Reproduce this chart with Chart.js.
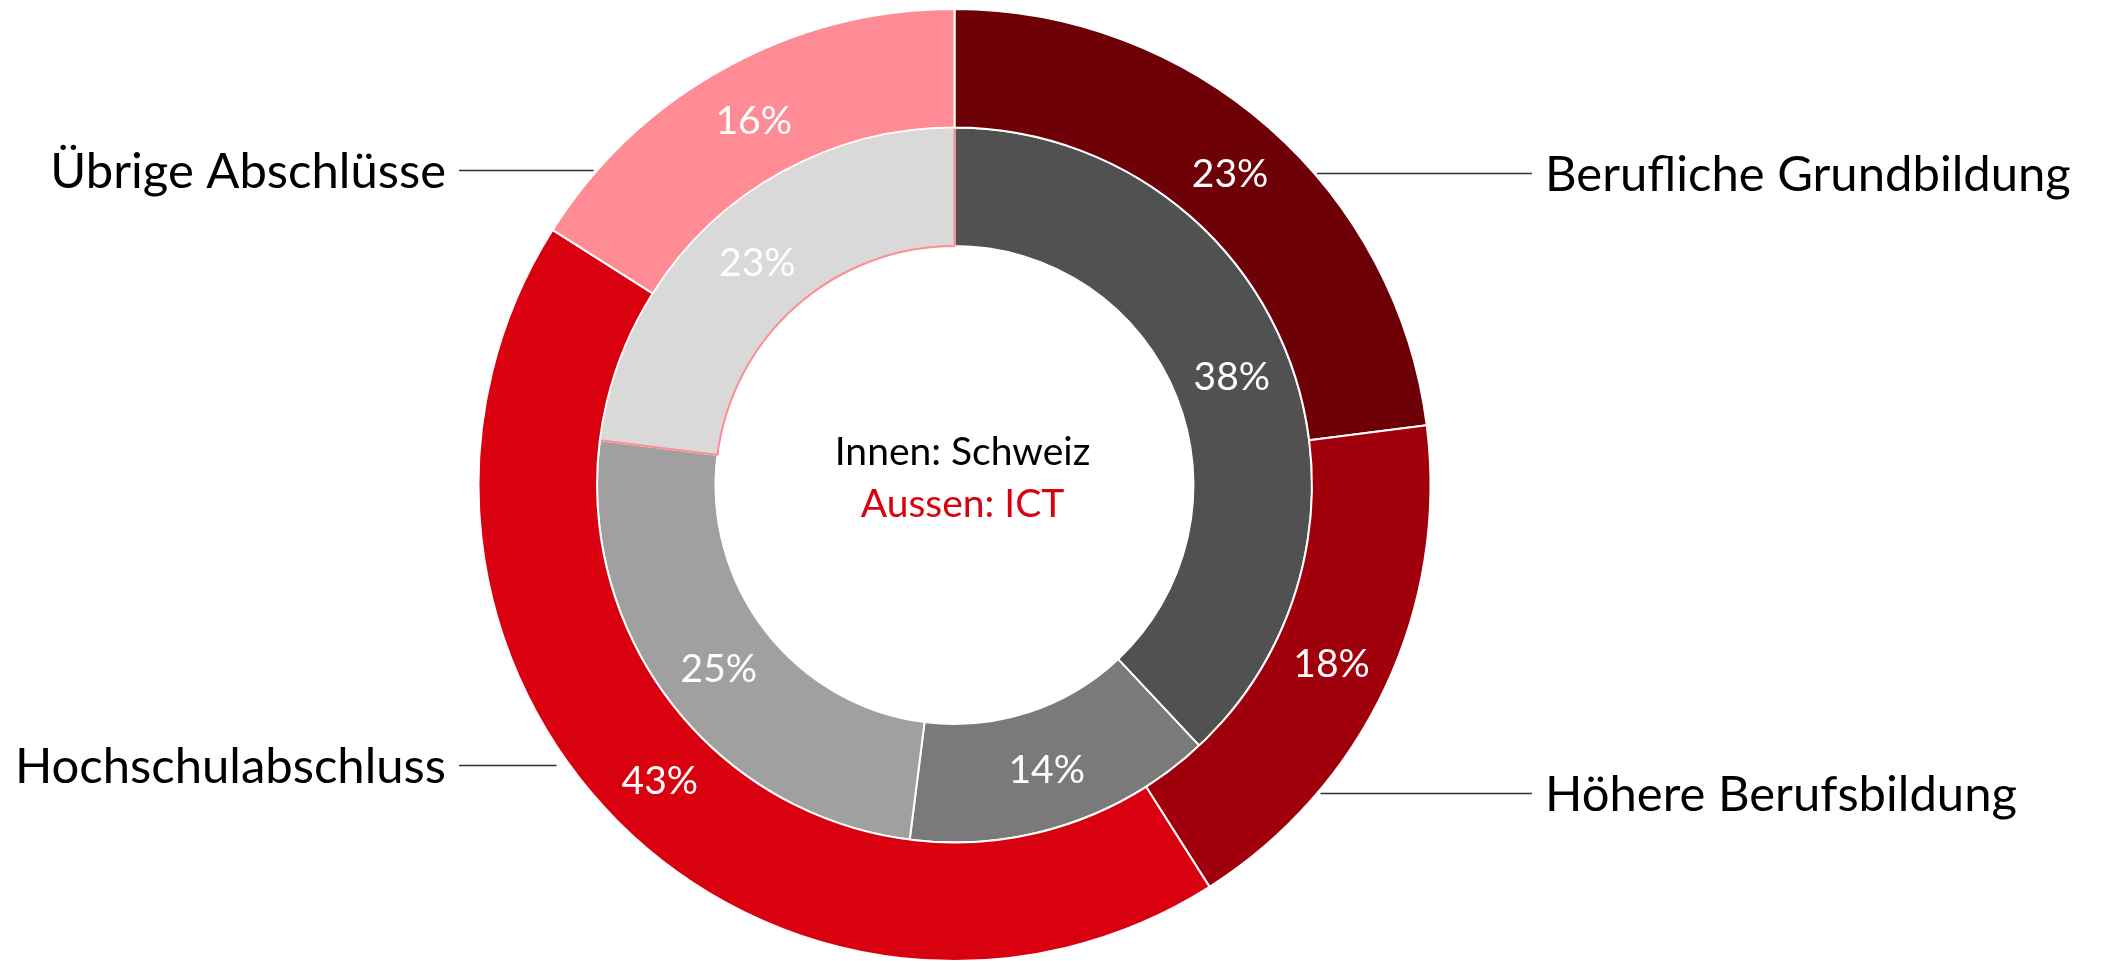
<!DOCTYPE html>
<html>
<head>
<meta charset="utf-8">
<script src="https://cdn.jsdelivr.net/npm/chart.js@4.4.1/dist/chart.umd.min.js"></script>
<style>
  html, body { margin: 0; padding: 0; background: #ffffff; }
  #wrap { position: relative; width: 2105px; height: 961px; }
</style>
</head>
<body>
<div id="wrap"><canvas id="c" width="2105" height="961"></canvas></div>
<script>
// ---- Data ----
const categories = ['Berufliche Grundbildung', 'Höhere Berufsbildung', 'Hochschulabschluss', 'Übrige Abschlüsse'];
const ictValues = [23, 18, 43, 16];        // outer ring (Aussen: ICT)
const schweizValues = [38, 14, 25, 23];    // inner ring (Innen: Schweiz)
const centerLines = ['Innen: Schweiz', 'Aussen: ICT'];

// ---- Styles ----
const ictColors = ['#6E0008', '#A0000C', '#D9000F', '#FF8C94'];
const schweizColors = ['#515151', '#7A7A7A', '#A0A0A0', '#D9D9D9'];
const schweizBorders = ['#ffffff', '#ffffff', '#ffffff', '#FF8C94'];

const labelPlugin = {
  id: 'labelPlugin',
  afterDraw(chart) {
    const ctx = chart.ctx;
    const outerMeta = chart.getDatasetMeta(0);
    const arc0 = outerMeta.data[0];
    const cx = arc0.x, cy = arc0.y, R = arc0.outerRadius;

    // percentage labels
    ctx.save();
    ctx.fillStyle = '#ffffff';
    ctx.font = '39px Lato';
    ctx.textAlign = 'center';
    ctx.textBaseline = 'middle';
    chart.data.datasets.forEach((ds, di) => {
      const meta = chart.getDatasetMeta(di);
      meta.data.forEach((arc, i) => {
        const p = arc.tooltipPosition();
        ctx.fillText(ds.data[i] + '%', p.x, p.y + 2);
      });
    });
    ctx.restore();

    // center text
    ctx.save();
    ctx.font = '39px Lato';
    ctx.textAlign = 'center';
    ctx.textBaseline = 'middle';
    ctx.fillStyle = '#000000';
    ctx.fillText(centerLines[0], cx + 8, cy - 33);
    ctx.fillStyle = '#D9000F';
    ctx.fillText(centerLines[1], cx + 8, cy + 19);
    ctx.restore();

    // category labels with leader lines
    const layout = [
      { y: 173, side: 'right', lineEnd: 1532, textX: 1545 },
      { y: 793, side: 'right', lineEnd: 1532, textX: 1545 },
      { y: 765, side: 'left', lineEnd: 459, textX: 446, gap: 13 },
      { y: 170, side: 'left', lineEnd: 459, textX: 446, gap: 4 }
    ];
    ctx.save();
    ctx.font = '49px Lato';
    ctx.textBaseline = 'middle';
    ctx.fillStyle = '#000000';
    ctx.strokeStyle = '#333333';
    ctx.lineWidth = 1.5;
    layout.forEach((L, i) => {
      const dy = L.y - cy;
      const dx = Math.sqrt(Math.max(R * R - dy * dy, 0));
      let xs;
      if (L.side === 'right') {
        xs = cx + dx + 3;
      } else {
        xs = cx - dx - (L.gap || 0);
      }
      ctx.beginPath();
      ctx.moveTo(xs, L.y + 0.5);
      ctx.lineTo(L.lineEnd, L.y + 0.5);
      ctx.stroke();
      ctx.textAlign = L.side === 'right' ? 'left' : 'right';
      ctx.fillText(categories[i], L.textX, L.y + 2);
    });
    ctx.restore();
  }
};

new Chart(document.getElementById('c'), {
  type: 'doughnut',
  data: {
    labels: categories,
    datasets: [
      {
        label: 'ICT',
        data: ictValues,
        backgroundColor: ictColors,
        borderColor: '#ffffff',
        borderWidth: 2
      },
      {
        label: 'Schweiz',
        data: schweizValues,
        backgroundColor: schweizColors,
        borderColor: schweizBorders,
        borderWidth: 2
      }
    ]
  },
  options: {
    responsive: false,
    animation: false,
    cutout: '50.2%',
    radius: 476,
    layout: { padding: { top: 9, bottom: 0, left: 0, right: 196 } },
    plugins: {
      legend: { display: false },
      tooltip: { enabled: false }
    }
  },
  plugins: [labelPlugin]
});
</script>
</body>
</html>
